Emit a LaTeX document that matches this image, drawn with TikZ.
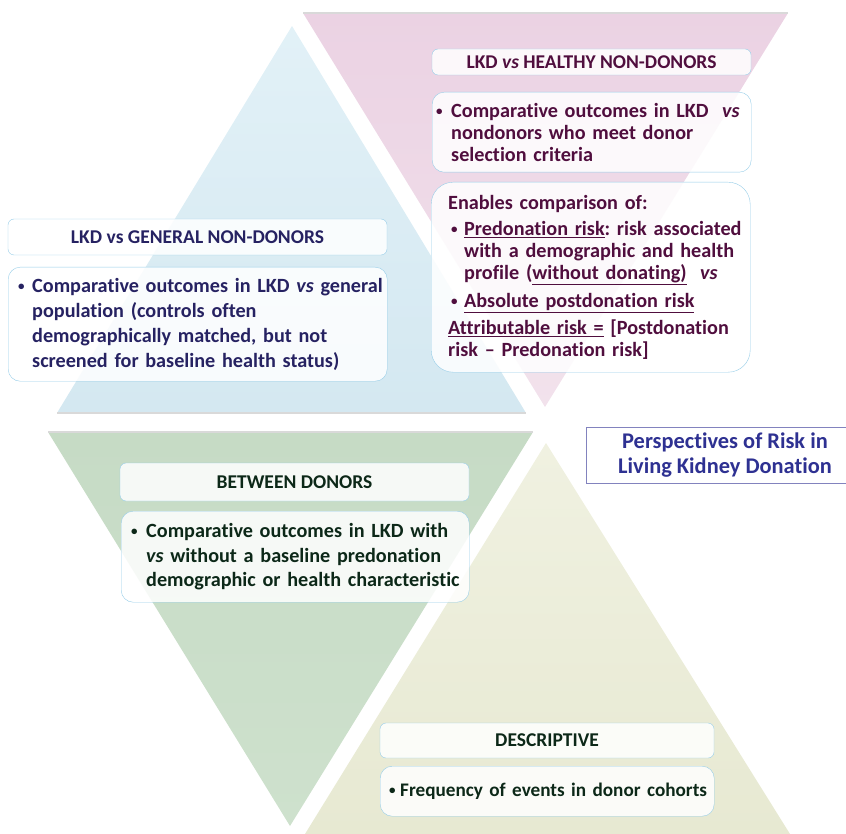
\documentclass[tikz,border=0pt]{standalone}
\usepackage{fontspec}
\setmainfont{Carlito}[Ligatures={TeX,CommonOff}]
\definecolor{navy}{RGB}{38,34,98}
\definecolor{plum}{RGB}{80,14,62}
\definecolor{forest}{RGB}{12,40,24}
\definecolor{titleblue}{RGB}{46,49,146}
\definecolor{boxline}{RGB}{150,205,232}
\newcommand\bul[1][14pt]{\makebox[#1][l]{\raisebox{1.8pt}{\fontsize{13}{13}\selectfont\textbullet}}}
\newcommand\cont[1][14pt]{\hspace*{#1}}
\begin{document}
\frenchspacing
\begin{tikzpicture}[x=1pt,y=-1pt,
  head/.style={draw=boxline,fill=white,fill opacity=.85,text opacity=1,rounded corners=6pt,font=\fontsize{19.5}{22}\selectfont\bfseries},
  body/.style={draw=boxline,fill=white,fill opacity=.85,text opacity=1,rounded corners=12pt,anchor=north west,align=left,inner xsep=2pt,inner ysep=0pt,font=\fontsize{20.2}{25}\selectfont\bfseries},
  bevel/.style={gray!30,line width=1.5pt}]
\useasboundingbox (0,0) rectangle (846,834);
\clip (0,0) rectangle (846,834);
\shade[top color={rgb,255:red,226;green,241;blue,247},bottom color={rgb,255:red,212;green,232;blue,241}] (57,413) -- (292,26) -- (526,413) -- cycle;
\shade[top color={rgb,255:red,235;green,210;blue,227},bottom color={rgb,255:red,242;green,226;blue,236}] (303,13) -- (788,13) -- (545,407) -- cycle;
\shade[top color={rgb,255:red,198;green,219;blue,197},bottom color={rgb,255:red,206;green,225;blue,205}] (48,432) -- (533,432) -- (290,826) -- cycle;
\shade[top color={rgb,255:red,240;green,241;blue,225},bottom color={rgb,255:red,231;green,233;blue,210}] (546,443) -- (305,834) -- (790,834) -- cycle;
\draw[bevel] (303,13) -- (788,13);
\draw[bevel] (57,413) -- (526,413);
\draw[bevel] (48,432) -- (533,432);

\node[head,text=navy,minimum width=379pt,minimum height=36pt] (genhead) at (197.5,237) {LKD vs GENERAL NON-DONORS};
\node[body,text=navy,text width=375pt,minimum height=114pt] (genbody) at (8,267) {\leftskip=8pt \bul Comparative outcomes in LKD \textit{vs} general\\ \cont population (controls often\\ \cont demographically matched, but not\\ \cont screened for baseline health status)\par};

\node[head,text=plum,minimum width=319pt,minimum height=26pt] (healthyhead) at (591.5,62) {LKD \textit{vs} HEALTHY NON-DONORS};
\node[body,text=plum,text width=315pt,minimum height=80pt,font=\fontsize{20.2}{22}\selectfont\bfseries] (healthybody) at (432,92) {\leftskip=2pt \bul[15pt]Comparative outcomes in LKD\ \ \textit{vs}\\ \cont[15pt]nondonors who meet donor\\ \cont[15pt]selection criteria\par};
\node[body,text=plum,text width=315pt,minimum height=190pt,rounded corners=22pt,font=\fontsize{20.2}{22}\selectfont\bfseries] (compare) at (431,182) {\leftskip=15pt Enables comparison of:\\[4pt] \hspace*{3pt}\bul[13pt]\underline{Predonation risk}: risk associated\\ \cont[16pt]with a demographic and health\\ \cont[16pt]profile (\underline{without donating)}\ \ \textit{vs}\\[6pt] \hspace*{3pt}\bul[13pt]\underline{Absolute postdonation risk}\\[5pt] \underline{Attributable risk =} [Postdonation\\ risk -- Predonation risk]\par};

\node[draw=titleblue!60,fill=white,text=titleblue,minimum width=278pt,minimum height=56pt,align=center,font=\fontsize{22.4}{25}\selectfont\bfseries] (title) at (725,455) {Perspectives of Risk in\\Living Kidney Donation};

\node[head,text=forest,minimum width=349pt,minimum height=38pt] (betweenhead) at (294.5,482) {BETWEEN DONORS};
\node[body,text=forest,text width=344pt,minimum height=91pt,font=\fontsize{20.2}{24.5}\selectfont\bfseries] (betweenbody) at (121,511) {\leftskip=8pt \bul[15pt]Comparative outcomes in LKD with\\ \cont[15pt]\textit{vs} without a baseline predonation\\ \cont[15pt]demographic or health characteristic\par};

\node[head,text=forest,minimum width=334pt,minimum height=35pt] (deschead) at (547,740.5) {DESCRIPTIVE};
\node[body,text=forest,text width=330pt,minimum height=50pt,font=\fontsize{19.2}{22}\selectfont\bfseries] (descbody) at (380,766) {\leftskip=7pt \bul[11pt]Frequency of events in donor cohorts\par};
\end{tikzpicture}
\end{document}
